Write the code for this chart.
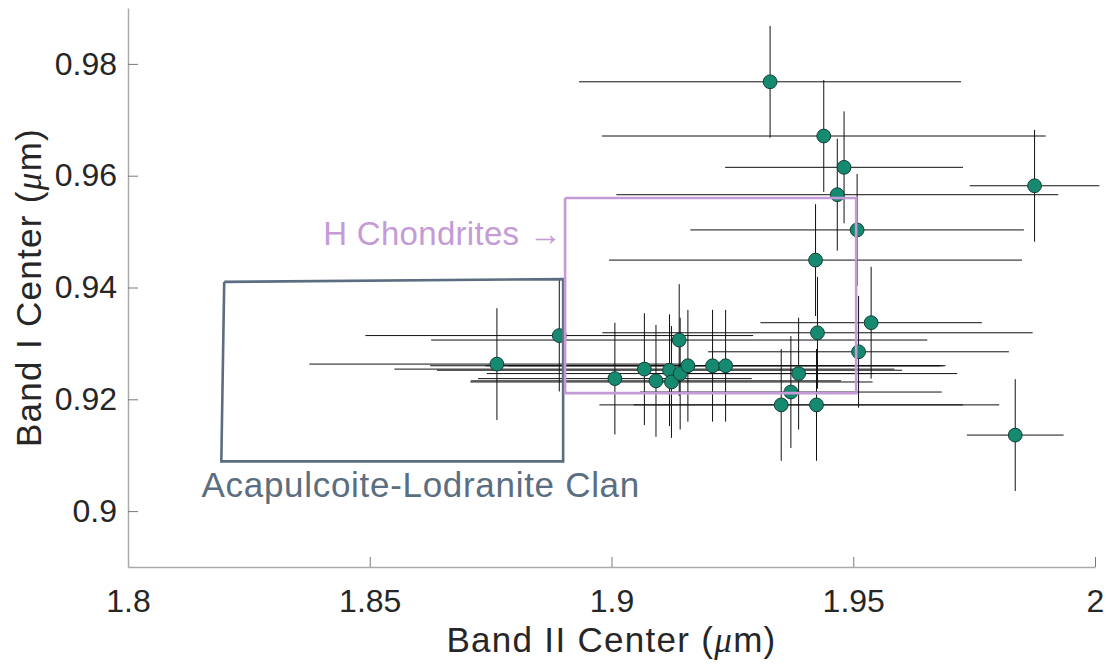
<!DOCTYPE html>
<html lang="en">
  <head>
    <meta charset="utf-8" />
    <script src="https://d3js.org/d3.v7.min.js"></script>
    <style>
      body {
        margin: 0;
        background: #fff;
      }
      text {
        font-family: "Liberation Sans", Arial, Helvetica, sans-serif;
      }
      .axis path {
        stroke: #aaaaaa;
        stroke-width: 1.5px;
      }
      .axis line {
        stroke: #7a7a7a;
      }
      .axis text {
        font-size: 32px;
        fill: #262626;
      }
      .title {
        font-size: 35px;
        letter-spacing: 1.3px;
        fill: #262626;
      }
    </style>
    <title>Band I vs Band II</title>
  </head>
  <body>
    <div id="chart"></div>
    <script>
      // band centres (um) and their errors
      var bandII = [
        1.9328, 1.9439, 1.9481, 1.9875, 1.9467, 1.9508, 1.9422, 1.9426,
        1.9537, 1.9511, 1.9387, 1.9371, 1.9351, 1.9424, 1.9835, 1.8892,
        1.8763, 1.9007, 1.9068, 1.9092, 1.912, 1.9124, 1.9142, 1.9158,
        1.9209, 1.9236, 1.914,
      ];
      var bandI = [
        0.9768, 0.9671, 0.9615, 0.9582, 0.9566, 0.9503, 0.9449, 0.9319,
        0.9337, 0.9285, 0.9246, 0.9213, 0.919, 0.919, 0.9136, 0.9314,
        0.9263, 0.9237, 0.9254, 0.9233, 0.9252, 0.9231, 0.9246, 0.926,
        0.926, 0.926, 0.9306,
      ];
      var bandIIErr = [
        0.0395, 0.0459, 0.0246, 0.0134, 0.0457, 0.0345, 0.0427, 0.0445,
        0.0229, 0.0311, 0.0328, 0.0312, 0.0376, 0.0378, 0.01, 0.0401,
        0.0388, 0.0283, 0.0517, 0.0383, 0.0481, 0.0416, 0.04, 0.0533,
        0.047, 0.045, 0.0513,
      ];
      var bandIErr = bandI.map(function () {
        return 0.01;
      });

      // outlined regions
      var hBoxX = [1.8904, 1.9506, 1.9506, 1.8904, 1.8904];
      var hBoxY = [0.956, 0.956, 0.9211, 0.9211, 0.956];
      var acaBoxX = [1.8199, 1.89, 1.89, 1.8193, 1.8199];
      var acaBoxY = [0.941, 0.9415, 0.9089, 0.9089, 0.941];

      var xTicks = [1.8, 1.85, 1.9, 1.95, 2];
      var xTickLabels = ["1.8", "1.85", "1.9", "1.95", "2"];
      var yTicks = [0.9, 0.92, 0.94, 0.96, 0.98];
      var yTickLabels = ["0.9", "0.92", "0.94", "0.96", "0.98"];

      var width = 1106,
        height = 668;
      var margin = { top: 8, right: 11, bottom: 101, left: 128 };

      var svg = d3
        .select("#chart")
        .append("svg")
        .attr("width", width)
        .attr("height", height);

      var x = d3
        .scaleLinear()
        .domain([1.8, 2])
        .range([margin.left, width - margin.right]);
      var y = d3
        .scaleLinear()
        .domain([0.89, 0.99])
        .range([height - margin.bottom, margin.top]);

      // axes (ticks point inwards, no box)
      svg
        .append("g")
        .attr("class", "axis")
        .attr("transform", "translate(0," + (height - margin.bottom) + ")")
        .call(
          d3
            .axisBottom(x)
            .tickValues(xTicks)
            .tickFormat(function (d, i) {
              return xTickLabels[i];
            })
            .tickSizeInner(-10)
            .tickSizeOuter(0)
            .tickPadding(22)
        );

      svg
        .append("g")
        .attr("class", "axis")
        .attr("transform", "translate(" + margin.left + ",0)")
        .call(
          d3
            .axisLeft(y)
            .tickValues(yTicks)
            .tickFormat(function (d, i) {
              return yTickLabels[i];
            })
            .tickSizeInner(-10)
            .tickSizeOuter(0)
            .tickPadding(11)
        );

      svg.selectAll(".axis .domain").attr("fill", "none");

      // axis titles
      var xTitle = svg
        .append("text")
        .attr("class", "title")
        .attr("x", (x.range()[0] + x.range()[1]) / 2)
        .attr("y", 652)
        .attr("text-anchor", "middle");
      xTitle.append("tspan").text("Band II Center (");
      xTitle
        .append("tspan")
        .style("font-family", "'Liberation Serif', serif")
        .style("font-style", "italic")
        .text("\u03bc");
      xTitle.append("tspan").text("m)");

      var yTitle = svg
        .append("text")
        .attr("class", "title")
        .attr(
          "transform",
          "translate(41," + (y.range()[0] + y.range()[1]) / 2 + ") rotate(-90)"
        )
        .attr("text-anchor", "middle");
      yTitle.append("tspan").text("Band I Center (");
      yTitle
        .append("tspan")
        .style("font-family", "'Liberation Serif', serif")
        .style("font-style", "italic")
        .text("\u03bc");
      yTitle.append("tspan").text("m)");

      var idx = d3.range(bandII.length);

      // error bars
      var bars = svg.append("g").attr("stroke", "#111").attr("stroke-width", 1);
      bars
        .selectAll("line.h")
        .data(idx)
        .enter()
        .append("line")
        .attr("class", "h")
        .attr("x1", function (i) {
          return x(bandII[i] - bandIIErr[i]);
        })
        .attr("x2", function (i) {
          return x(bandII[i] + bandIIErr[i]);
        })
        .attr("y1", function (i) {
          return y(bandI[i]);
        })
        .attr("y2", function (i) {
          return y(bandI[i]);
        });
      bars
        .selectAll("line.v")
        .data(idx)
        .enter()
        .append("line")
        .attr("class", "v")
        .attr("x1", function (i) {
          return x(bandII[i]);
        })
        .attr("x2", function (i) {
          return x(bandII[i]);
        })
        .attr("y1", function (i) {
          return y(bandI[i] - bandIErr[i]);
        })
        .attr("y2", function (i) {
          return y(bandI[i] + bandIErr[i]);
        });

      // markers
      svg
        .append("g")
        .selectAll("circle")
        .data(idx)
        .enter()
        .append("circle")
        .attr("cx", function (i) {
          return x(bandII[i]);
        })
        .attr("cy", function (i) {
          return y(bandI[i]);
        })
        .attr("r", 6.9)
        .attr("fill", "#168a70")
        .attr("stroke", "#123f35")
        .attr("stroke-width", 1);

      // regions
      var boxLine = d3
        .line()
        .x(function (d) {
          return x(d[0]);
        })
        .y(function (d) {
          return y(d[1]);
        });

      svg
        .append("path")
        .attr("d", boxLine(d3.zip(acaBoxX, acaBoxY)))
        .attr("fill", "none")
        .attr("stroke", "#5b6d80")
        .attr("stroke-width", 2.6);

      svg
        .append("path")
        .attr("d", boxLine(d3.zip(hBoxX, hBoxY)))
        .attr("fill", "none")
        .attr("stroke", "#c49bd6")
        .attr("stroke-width", 2.6);

      svg
        .append("text")
        .attr("x", x(1.8898))
        .attr("y", y(0.9476))
        .attr("text-anchor", "end")
        .style("font-size", "33px")
        .style("letter-spacing", "0.3px")
        .style("fill", "#c49bd6")
        .text("H Chondrites \u2192");

      svg
        .append("text")
        .attr("x", x(1.8152))
        .attr("y", y(0.90245))
        .style("font-size", "35px")
        .style("letter-spacing", "0.7px")
        .style("fill", "#5b6d80")
        .text("Acapulcoite-Lodranite Clan");
    </script>
  </body>
</html>
